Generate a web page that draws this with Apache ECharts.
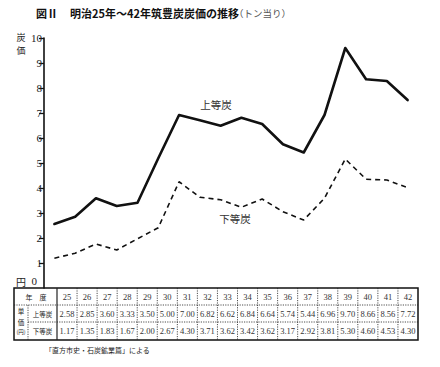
<!DOCTYPE html>
<html><head><meta charset="utf-8">
<script src="https://cdn.jsdelivr.net/npm/echarts@6/dist/echarts.min.js"></script>
<style>html,body{margin:0;padding:0;background:#fff}#c{width:440px;height:367px}</style>
</head><body><div id="c"></div>
<script>
const years = ['25','26','27','28','29','30','31','32','33','34','35','36','37','38','39','40','41','42'];
// values as plotted on the chart
const upperLine = [2.56,2.85,3.59,3.28,3.41,5.19,6.92,6.71,6.49,6.81,6.56,5.75,5.42,6.92,9.60,8.35,8.28,7.52];
const lowerLine = [1.19,1.39,1.76,1.52,1.97,2.41,4.25,3.63,3.53,3.23,3.56,3.05,2.72,3.59,5.16,4.35,4.32,4.01];
// values printed in the table
const upperTable = ['2.58','2.85','3.60','3.33','3.50','5.00','7.00','6.82','6.62','6.84','6.64','5.74','5.44','6.96','9.70','8.66','8.56','7.72'];
const lowerTable = ['1.17','1.35','1.83','1.67','2.00','2.67','4.30','3.71','3.62','3.42','3.62','3.17','2.92','3.81','5.30','4.60','4.53','4.30'];
const seriesNames = ['上等炭','下等炭'];
const titleMain = '明治25年～42年筑豊炭炭価の推移';
const titleSub = '（トン当り）';
const figLabel = '図Ⅱ';
const sourceNote = '「直方市史・石炭鉱業篇」による';
const unitChars = ['単','価','(円)'];

const chart = echarts.init(document.getElementById('c'), null, {renderer:'svg'});
const JP = '"Noto Sans CJK JP"';
const SERIF = '"Liberation Serif","DejaVu Serif",serif';
function txt(x, y, text, font, fill, align, valign){
  return {type:'text', x:x, y:y, silent:true, style:{text:text, font:font, fill:fill||'#111',
    align:align||'left', verticalAlign:valign||'middle', textAlign:align||'left', textVerticalAlign:valign||'middle'}};
}
function ln(x1,y1,x2,y2,w,dash){
  return {type:'line', silent:true, shape:{x1:x1,y1:y1,x2:x2,y2:y2},
    style:{stroke:'#222', lineWidth:w, lineDash:dash||null}};
}
const g = [];
g.push(txt(36, 13, figLabel, 'bold 11px '+JP, '#111'));
g.push(txt(70, 13, titleMain, 'bold 11px '+JP, '#111'));
g.push(txt(234, 13, titleSub, '9.5px '+JP, '#555'));
g.push(txt(21, 37, '炭', '9px '+JP, '#222', 'center'));
g.push(txt(21, 50.5, '価', '9px '+JP, '#222', 'center'));
g.push(txt(21, 281, '円', '10px '+JP, '#222', 'center'));
g.push(txt(37, 281, '0', '11px '+SERIF, '#222', 'right'));
g.push(txt(216, 104, seriesNames[0], '10.5px '+JP, '#333', 'center'));
g.push(txt(235, 218, seriesNames[1], '10.5px '+JP, '#333', 'center'));
// table
const tL = 14, tR = 418, tT = 288, r1 = 305, r2 = 322, tB = 340, cL = 57, cS = 28;
const cw = (tR - cL) / years.length;
const dot = [1.2,1.2];
g.push({type:'rect', silent:true, shape:{x:tL,y:tT,width:tR-tL,height:tB-tT}, style:{fill:'none', stroke:'#111', lineWidth:1.5}});
g.push(ln(tL, r1, tR, r1, 0.8, dot));
g.push(ln(cS, r2, tR, r2, 0.8, dot));
g.push(ln(cS, r1, cS, tB, 0.8, dot));
g.push(ln(cL, tT, cL, tB, 1.2));
for (let i = 1; i < years.length; i++) {
  const x = cL + cw * i;
  g.push(ln(x, tT, x, tB, 0.8, dot));
}
g.push(txt(36, (tT+r1)/2, '年　度', '7px '+JP, '#222', 'center'));
g.push(txt(42.5, (r1+r2)/2, seriesNames[0], '6.5px '+JP, '#222', 'center'));
g.push(txt(42.5, (r2+tB)/2, seriesNames[1], '6.5px '+JP, '#222', 'center'));
unitChars.forEach((c, i) => {
  g.push(txt((tL+cS)/2, r1 + 6 + i * 10.5, c, (i < 2 ? '6.5px ' : '5.5px ') + JP, '#222', 'center'));
});
years.forEach((y, i) => {
  const cx = cL + cw * (i + 0.5);
  g.push(txt(cx, (tT+r1)/2, y, '8.5px '+SERIF, '#333', 'center'));
  g.push(txt(cx, (r1+r2)/2, upperTable[i], '8.5px '+SERIF, '#333', 'center'));
  g.push(txt(cx, (r2+tB)/2, lowerTable[i], '8.5px '+SERIF, '#333', 'center'));
});
g.push(txt(45, 350, sourceNote, '7px '+JP, '#222', 'left'));

chart.setOption({
  animation:false,
  backgroundColor:'#fff',
  grid:{left:44, right:22, top:38, bottom:79, containLabel:false},
  xAxis:{type:'category', data:years, boundaryGap:true,
    axisLine:{show:false}, axisTick:{show:false}, axisLabel:{show:false}, splitLine:{show:false}},
  yAxis:{type:'value', min:0, max:10, interval:1,
    axisLine:{show:true, lineStyle:{color:'#111', width:1.6}},
    axisTick:{show:true, inside:false, length:5, lineStyle:{color:'#111', width:1.3}},
    axisLabel:{show:true, showMinLabel:false, margin:2, color:'#222', fontSize:11, fontFamily:SERIF},
    splitLine:{show:false}},
  series:[
    {name:seriesNames[0], type:'line', data:upperLine, symbol:'none', silent:true,
      lineStyle:{color:'#111', width:2.6, cap:'round', join:'round'}},
    {name:seriesNames[1], type:'line', data:lowerLine, symbol:'none', silent:true,
      lineStyle:{color:'#111', width:1.6, type:[5,4]}}
  ],
  graphic:g
});
</script></body></html>
